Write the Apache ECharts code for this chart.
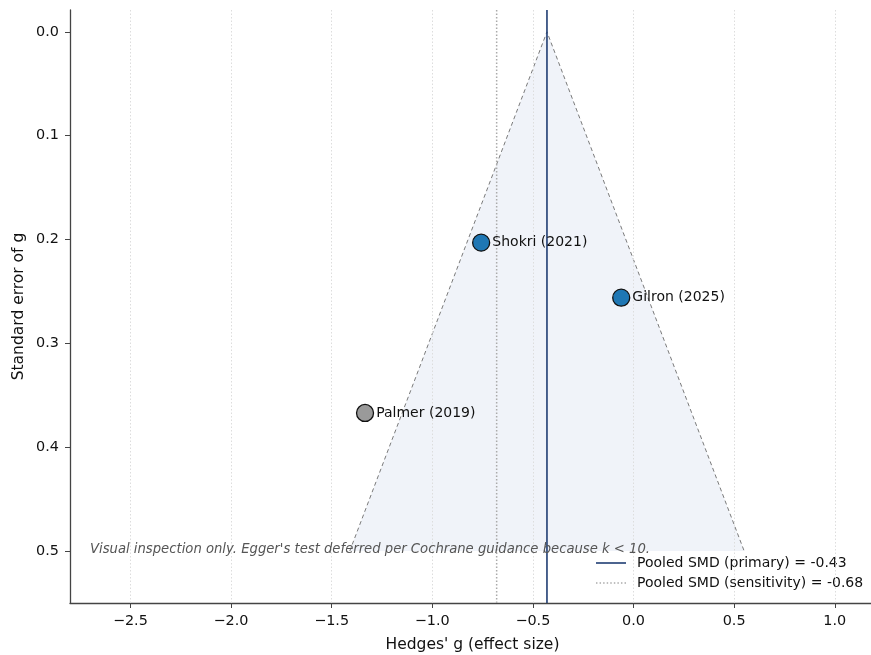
<!DOCTYPE html>
<html><head><meta charset="utf-8">
<script src="https://cdn.jsdelivr.net/npm/echarts@6/dist/echarts.min.js"></script>
<style>html,body{margin:0;padding:0;background:#fff}#c{width:871px;height:655px}</style>
</head><body><div id="c"></div>
<script>
const studies = ['Shokri (2021)', 'Gilron (2025)', 'Palmer (2019)'];
const effectSizes = [-0.757, -0.061, -1.334];
const standardErrors = [0.203, 0.256, 0.367];
const studyColors = ['#1f77b4', '#1f77b4', '#9a9a9a'];
const pooledPrimary = -0.43;
const pooledSensitivity = -0.68;
const seMax = 0.5;
const zCrit = 1.96;
const xTicks = [-2.5, -2.0, -1.5, -1.0, -0.5, 0.0, 0.5, 1.0];
const yTicks = [0.0, 0.1, 0.2, 0.3, 0.4, 0.5];
const xRange = [-2.8, 1.2];
const yRange = [-0.021, 0.55];
const note = "Visual inspection only. Egger's test deferred per Cochrane guidance because k < 10.";

const FONT = 'DejaVu Sans';
const fmtX = v => (v < 0 ? '\u2212' : '') + Math.abs(v).toFixed(1);
const fmtY = v => v.toFixed(1);

const funnelPts = [
  [pooledPrimary - zCrit * seMax, seMax],
  [pooledPrimary, 0],
  [pooledPrimary + zCrit * seMax, seMax]
];

// legend icon shapes (style only)
const solidIcon = 'path://M0,0L30,0L30,1.6L0,1.6Z';
let dotted = 'path://';
for (let x = 0; x < 30; x += 3.4) dotted += 'M' + x + ',0h1.4v1.6h-1.4z';

const chart = echarts.init(document.getElementById('c'), null, {renderer: 'canvas'});
chart.setOption({
  animation: false,
  backgroundColor: '#fff',
  textStyle: {fontFamily: FONT},
  grid: {left: 70, top: 10, width: 805, height: 593, containLabel: false, outerBoundsMode: 'none'},
  xAxis: {
    type: 'value', min: xRange[0], max: xRange[1],
    name: "Hedges' g (effect size)", nameLocation: 'middle', nameGap: 34, nameMoveOverlap: false,
    nameTextStyle: {fontSize: 15.5, color: '#111', fontFamily: FONT},
    axisLine: {show: true, onZero: false, lineStyle: {color: '#444', width: 1.3}},
    axisTick: {show: true, customValues: xTicks, length: 5, lineStyle: {color: '#444'}},
    axisLabel: {customValues: xTicks, formatter: fmtX, fontSize: 14.4, color: '#111', margin: 11, fontFamily: FONT},
    splitLine: {show: false}
  },
  yAxis: {
    type: 'value', inverse: true, min: yRange[0], max: yRange[1],
    name: 'Standard error of g', nameLocation: 'middle', nameGap: 43, nameMoveOverlap: false,
    nameTextStyle: {fontSize: 15.5, color: '#111', fontFamily: FONT},
    axisLine: {show: true, onZero: false, lineStyle: {color: '#444', width: 1.3}},
    axisTick: {show: true, customValues: yTicks, length: 5, lineStyle: {color: '#444'}},
    axisLabel: {customValues: yTicks, formatter: fmtY, fontSize: 14.4, color: '#111', margin: 11, fontFamily: FONT},
    splitLine: {show: false}
  },
  legend: {
    orient: 'vertical', left: 596, top: 555, itemGap: 4,
    itemWidth: 30, itemHeight: 2, padding: 0,
    textStyle: {fontSize: 14, color: '#111', fontFamily: FONT, padding: [0, 0, 0, 6], lineHeight: 16},
    data: [
      {name: 'Pooled SMD (primary) = -0.43', icon: solidIcon},
      {name: 'Pooled SMD (sensitivity) = -0.68', icon: dotted}
    ]
  },
  graphic: [{
    type: 'text', left: 90, top: 543, z: 10,
    style: {text: note, fill: '#555', font: 'italic 13.2px "DejaVu Sans"'}
  }],
  series: [
    {
      type: 'custom', silent: true, z: 1,
      data: [0],
      renderItem: (params, api) => ({
        type: 'polygon',
        shape: {points: funnelPts.map(p => api.coord(p))},
        style: {fill: 'rgba(205,216,234,0.3)', stroke: 'none'}
      })
    },
    {
      type: 'line', silent: true, z: 2, symbol: 'none',
      data: [],
      markLine: {
        silent: true, symbol: 'none', label: {show: false},
        lineStyle: {color: '#dddddd', type: [1.5, 2], width: 1},
        data: xTicks.map(v => ({xAxis: v}))
      }
    },
    {
      type: 'line', silent: true, z: 3, symbol: 'none',
      data: funnelPts,
      lineStyle: {color: '#7a7a7a', width: 1, type: [4, 3]}
    },
    {
      name: 'Pooled SMD (sensitivity) = -0.68',
      type: 'line', silent: true, z: 4, symbol: 'none',
      data: [[pooledSensitivity, yRange[0]], [pooledSensitivity, yRange[1]]],
      itemStyle: {color: '#aaaaaa'},
      lineStyle: {color: '#aaaaaa', width: 1.5, type: [1.5, 2]}
    },
    {
      name: 'Pooled SMD (primary) = -0.43',
      type: 'line', silent: true, z: 4, symbol: 'none',
      data: [[pooledPrimary, yRange[0]], [pooledPrimary, yRange[1]]],
      itemStyle: {color: '#1f3d73'},
      lineStyle: {color: '#1f3d73', width: 1.6}
    },
    {
      type: 'scatter', z: 6, symbolSize: 17,
      data: studies.map((s, i) => ({
        value: [effectSizes[i], standardErrors[i]], name: s,
        itemStyle: {color: studyColors[i], borderColor: '#111', borderWidth: 1.3, opacity: 1}
      })),
      label: {show: true, position: 'right', distance: 2, formatter: p => p.name, fontSize: 14, color: '#111', fontFamily: FONT}
    }
  ]
});
</script></body></html>
